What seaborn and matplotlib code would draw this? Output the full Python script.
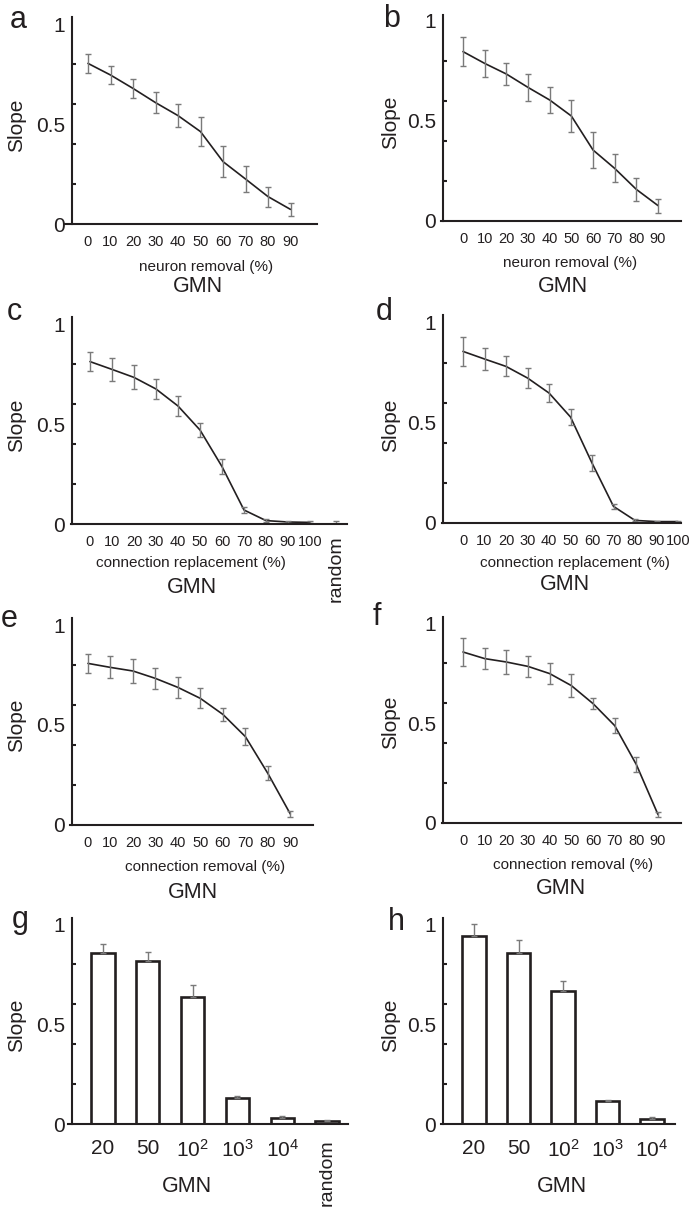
import numpy as np
import pandas as pd
import matplotlib
matplotlib.use("Agg")
import matplotlib.pyplot as plt
import seaborn as sns

sns.set_style("ticks")
plt.rcParams['font.family'] = ['Liberation Sans', 'DejaVu Sans']
plt.rcParams['mathtext.default'] = 'regular'

INK = '#231f20'
ERR = '#7a7a7a'

# data
pct10 = [0, 10, 20, 30, 40, 50, 60, 70, 80, 90]
pct11 = [0, 10, 20, 30, 40, 50, 60, 70, 80, 90, 100]

a_mean = [0.803, 0.745, 0.678, 0.607, 0.542, 0.462, 0.312, 0.225, 0.137, 0.073]
a_err = [0.047, 0.046, 0.047, 0.052, 0.057, 0.072, 0.078, 0.063, 0.050, 0.032]
b_mean = [0.847, 0.788, 0.735, 0.668, 0.605, 0.525, 0.355, 0.263, 0.158, 0.077]
b_err = [0.071, 0.069, 0.057, 0.067, 0.065, 0.081, 0.089, 0.070, 0.056, 0.035]
c_mean = [0.812, 0.773, 0.733, 0.675, 0.590, 0.470, 0.287, 0.070, 0.017, 0.010, 0.008]
c_err = [0.047, 0.059, 0.060, 0.052, 0.050, 0.036, 0.039, 0.015, 0.008, 0.005, 0.005]
c_random_x = 112
c_random_mean = 0.008
c_random_err = 0.006
d_mean = [0.858, 0.820, 0.783, 0.725, 0.650, 0.530, 0.300, 0.083, 0.013, 0.007, 0.007]
d_err = [0.071, 0.054, 0.050, 0.048, 0.046, 0.042, 0.042, 0.013, 0.005, 0.004, 0.005]
e_mean = [0.808, 0.788, 0.770, 0.733, 0.688, 0.633, 0.553, 0.442, 0.258, 0.055]
e_err = [0.048, 0.055, 0.062, 0.052, 0.052, 0.050, 0.032, 0.042, 0.035, 0.013]
f_mean = [0.855, 0.822, 0.805, 0.783, 0.747, 0.687, 0.597, 0.487, 0.292, 0.042]
f_err = [0.071, 0.053, 0.061, 0.052, 0.052, 0.058, 0.026, 0.037, 0.037, 0.012]

g_labels = ['20', '50', '10$^2$', '10$^3$', '10$^4$', 'random']
g_mean = [0.853, 0.815, 0.637, 0.128, 0.028, 0.015]
g_err = [0.045, 0.047, 0.058, 0.013, 0.012, 0.007]
h_labels = ['20', '50', '10$^2$', '10$^3$', '10$^4$']
h_mean = [0.942, 0.853, 0.667, 0.113, 0.025]
h_err = [0.058, 0.067, 0.050, 0.008, 0.008]

W, H = 697, 1207
fig = plt.figure(figsize=(W / 100, H / 100), dpi=100)


def make_ax(x0, sx, xlim, yaxis_x, y0, ytop=1.035):
    # x0: pixel of x=0, sx: pixels per x unit, y0: pixel of y=0 (200 px per unit)
    left = x0 + xlim[0] * sx
    right = x0 + xlim[1] * sx
    ax = fig.add_axes([left / W, 1 - y0 / H, (right - left) / W, ytop * 200 / H])
    ax.set_xlim(*xlim)
    ax.set_ylim(0, ytop)
    sns.despine(ax=ax)
    ax.spines['left'].set_position(('data', yaxis_x))
    for s in ['left', 'bottom']:
        ax.spines[s].set_linewidth(1.5)
        ax.spines[s].set_color(INK)
    ax.set_yticks([0, 0.5, 1])
    ax.set_yticklabels(['0', '0.5', '1'])
    ax.set_yticks([0.2, 0.4, 0.6, 0.8, 1.0], minor=True)
    ax.tick_params(axis='y', which='major', length=0, pad=5, labelsize=15, labelcolor=INK)
    ax.tick_params(axis='y', which='minor', length=3, width=1.5, direction='in', color=INK)
    ax.set_xlabel('')
    ax.set_ylabel('')
    return ax


def ftext(x, y, s, **kw):
    kw.setdefault('color', INK)
    fig.text(x / W, 1 - y / H, s, **kw)


def line_panel(ax, xs, mean, err):
    df = pd.DataFrame({'x': xs, 'slope': mean})
    sns.lineplot(data=df, x='x', y='slope', ax=ax, color=INK, linewidth=1.2)
    ax.errorbar(xs, mean, yerr=err, fmt='none', ecolor=ERR, elinewidth=1,
                capsize=2.5, capthick=1)
    ax.set_xticks(xs)
    ax.set_xticklabels([str(v) for v in xs])
    ax.tick_params(axis='x', length=0, pad=8, labelsize=10.5, labelcolor=INK)
    ax.set_xlabel('')
    ax.set_ylabel('')


def bar_panel(ax, labels, mean, err):
    df = pd.DataFrame({'n': labels, 'slope': mean})
    sns.barplot(data=df, x='n', y='slope', ax=ax, color='white', edgecolor=INK,
                linewidth=1.9, width=0.52, errorbar=None)
    pos = np.arange(len(labels))
    ax.errorbar(pos, mean, yerr=[np.zeros(len(err)), err], fmt='none', ecolor=ERR,
                elinewidth=1, capsize=2.5, capthick=1, zorder=1)
    ax.tick_params(axis='x', length=0, pad=11, labelsize=15, labelcolor=INK)
    ax.set_xlabel('')
    ax.set_ylabel('')


# a
ax = make_ax(88, 2.25, (-10.2, 101.6), -7.1, 224)
line_panel(ax, pct10, a_mean, a_err)
# b
ax = make_ax(463, 2.167, (-10, 100.6), -9.2, 221, 1.03)
line_panel(ax, pct10, b_mean, b_err)
# c
ax = make_ax(90, 2.2, (-8.5, 116.8), -8.2, 524)
line_panel(ax, pct11, c_mean, c_err)
ax.errorbar([c_random_x], [c_random_mean], yerr=[c_random_err], fmt='none', ecolor=ERR,
            elinewidth=1, capsize=2.5, capthick=1)
ax.set_xticks(pct11 + [c_random_x])
ax.set_xticklabels([str(v) for v in pct11] + ['random'])
ax.get_xticklabels()[-1].set(rotation=90, fontsize=14, va='top')
# d
ax = make_ax(463, 2.15, (-10, 101.4), -9.2, 523, 1.04)
line_panel(ax, pct11, d_mean, d_err)
# e
ax = make_ax(88, 2.248, (-8, 100), -7.1, 825)
line_panel(ax, pct10, e_mean, e_err)
# f
ax = make_ax(463, 2.167, (-9.5, 100.6), -9.2, 823, 1.03)
line_panel(ax, pct10, f_mean, f_err)
# g
ax = make_ax(103, 44.8, (-0.78, 5.47), -0.69, 1124, 1.03)
bar_panel(ax, g_labels, g_mean, g_err)
ax.set_xlim(-0.78, 5.47)
ax.get_xticklabels()[-1].set(rotation=90, fontsize=14, va='top')
# h
ax = make_ax(474, 44.5, (-0.74, 4.52), -0.70, 1124, 1.03)
bar_panel(ax, h_labels, h_mean, h_err)
ax.set_xlim(-0.74, 4.52)

# axis titles and panel letters
xlabels = [
    (206, 267, 'neuron removal (%)'), (570, 263, 'neuron removal (%)'),
    (191, 563, 'connection replacement (%)'), (575, 563, 'connection replacement (%)'),
    (205, 867, 'connection removal (%)'), (573, 865, 'connection removal (%)'),
]
for x, y, s in xlabels:
    ftext(x, y, s, ha='center', va='center', fontsize=11)

for x, y in [(198, 287), (563, 287), (192, 587), (565, 585), (193, 892), (561, 889),
             (187, 1186), (562, 1186)]:
    ftext(x, y, 'GMN', ha='center', va='center', fontsize=15.5)

for x, y in [(17, 125), (391, 122), (17, 425), (391, 425), (17, 725), (391, 722),
             (17, 1025), (391, 1025)]:
    ftext(x, y, 'Slope', ha='center', va='center', rotation=90, fontsize=15)

for x, y, s in [(10, 28, 'a'), (383, 27, 'b'), (7, 320, 'c'), (376, 320, 'd'),
                (1, 627, 'e'), (373, 625, 'f'), (12, 928, 'g'), (388, 930, 'h')]:
    ftext(x, y, s, ha='left', va='baseline', fontsize=22)

fig.savefig('out.png', dpi=100)
